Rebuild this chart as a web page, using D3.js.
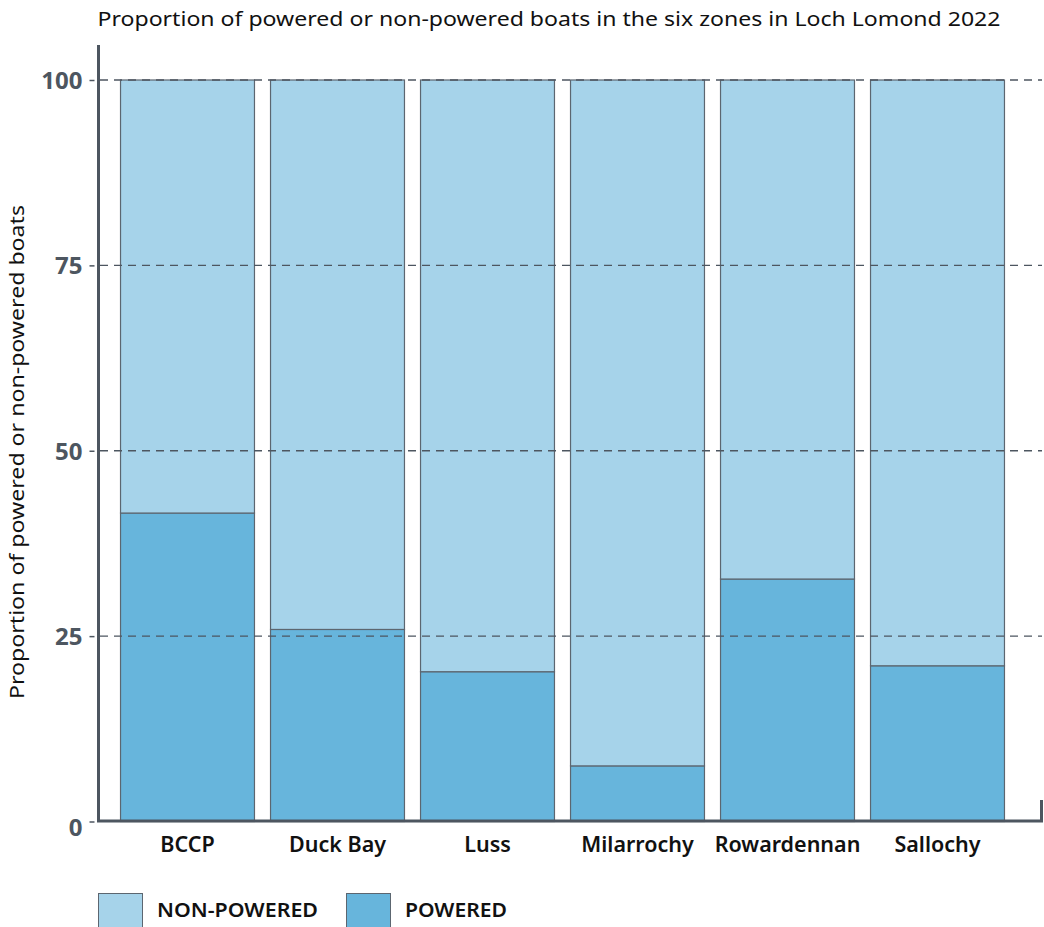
<!DOCTYPE html>
<html>
<head>
<meta charset="utf-8">
<script src="https://cdn.jsdelivr.net/npm/d3@7/dist/d3.min.js"></script>
<style>
  html, body { margin: 0; padding: 0; background: #fff; }
  svg { display: block; font-family: "Noto Sans", "Open Sans", sans-serif; }
</style>
</head>
<body>
<svg id="chart" width="1044" height="927"></svg>
<script>
// Zones surveyed on Loch Lomond, 2022
const zones = ["BCCP", "Duck Bay", "Luss", "Milarrochy", "Rowardennan", "Sallochy"];
// Share of powered boats per zone (%)
const powered = [41.6, 25.9, 20.2, 7.5, 32.7, 21.0];
// Share of non-powered boats per zone (%)
const nonPowered = [58.4, 74.1, 79.8, 92.5, 67.3, 79.0];
const yTicks = [0, 25, 50, 75, 100];
const seriesNames = ["NON-POWERED", "POWERED"];
const seriesColors = ["#a6d3ea", "#67b5dc"];

const svg = d3.select("#chart");
const axisColor = "#4d5660";
const barStroke = "#5c6670";

const x = d3.scaleBand()
  .domain(zones)
  .range([112.5, 1012.5])
  .paddingInner(0.107)
  .paddingOuter(0.0535);

const y = d3.scaleLinear().domain([0, 100]).range([821.5, 80]);

// Stretch a text element horizontally to a given width
function fitWidth(sel, w) {
  sel.attr("textLength", w).attr("lengthAdjust", "spacingAndGlyphs");
}

// Title
svg.append("text")
  .attr("x", 549).attr("y", 26)
  .attr("text-anchor", "middle")
  .attr("font-size", 20.5)
  .attr("fill", "#111")
  .text("Proportion of powered or non-powered boats in the six zones in Loch Lomond 2022")
  .call(fitWidth, 903);

// Y axis title
svg.append("text")
  .attr("transform", "translate(24,452) rotate(-90)")
  .attr("text-anchor", "middle")
  .attr("font-size", 20.5)
  .attr("fill", "#111")
  .text("Proportion of powered or non-powered boats")
  .call(fitWidth, 494);

// Stacked bars
const rows = zones.map((z, i) => ({ zone: z, powered: powered[i], nonPowered: nonPowered[i] }));
const stack = d3.stack().keys(["powered", "nonPowered"]);
const layers = stack(rows);
const layerColor = { powered: seriesColors[1], nonPowered: seriesColors[0] };

svg.append("g").selectAll("g")
  .data(layers)
  .join("g")
  .attr("fill", d => layerColor[d.key])
  .selectAll("rect")
  .data(d => d)
  .join("rect")
  .attr("x", d => x(d.data.zone))
  .attr("width", x.bandwidth())
  .attr("y", d => y(d[1]))
  .attr("height", d => y(d[0]) - y(d[1]))
  .attr("stroke", barStroke)
  .attr("stroke-width", 1.2);

// Dashed gridlines (drawn over the bars)
const grid = svg.append("g");
yTicks.filter(t => t > 0).forEach(t => {
  grid.append("line")
    .attr("x1", 100).attr("x2", 1042)
    .attr("y1", y(t)).attr("y2", y(t))
    .attr("stroke", "#4d5660")
    .attr("stroke-width", 1.3)
    .attr("stroke-dasharray", "8,6");
});

// Y axis
const yAxis = svg.append("g").attr("transform", "translate(98.5,0)")
  .call(d3.axisLeft(y).tickValues(yTicks).tickSize(6).tickPadding(10).tickSizeOuter(0));
yAxis.select(".domain").remove();
yAxis.selectAll(".tick line").attr("stroke", axisColor).attr("stroke-width", 1.5)
  .attr("x1", -4).attr("x2", -9);
yAxis.selectAll(".tick text")
  .attr("fill", axisColor)
  .attr("font-size", 24)
  .attr("font-weight", 700)
  .attr("x", -16)
  .attr("dy", "0.35em")
  .attr("font-family", "'Noto Sans', sans-serif");
yAxis.selectAll(".tick").filter(d => d === 0).select("text").attr("dy", "0.6em");

svg.append("line")
  .attr("x1", 98.5).attr("x2", 98.5)
  .attr("y1", 45).attr("y2", 822)
  .attr("stroke", axisColor).attr("stroke-width", 3);

// X axis
svg.append("path")
  .attr("d", "M98.5,800V821H1041.5V800")
  .attr("fill", "none")
  .attr("stroke", axisColor)
  .attr("stroke-width", 3);

const xAxis = svg.append("g").attr("transform", "translate(0,821)")
  .call(d3.axisBottom(x).tickSize(0).tickPadding(16));
xAxis.select(".domain").remove();
xAxis.selectAll(".tick text")
  .attr("fill", "#111")
  .attr("font-size", 21.5)
  .attr("font-weight", 600)
  .attr("dy", "0.71em")
  .attr("font-family", "'Noto Sans', sans-serif");

// Legend
const legend = svg.append("g");
const legendX = [98, 346];
const legendTextW = [161, 102];
seriesNames.forEach((name, i) => {
  const g = legend.append("g").attr("transform", `translate(${legendX[i]},893)`);
  g.append("rect")
    .attr("x", 0.5).attr("y", 0.5)
    .attr("width", 44).attr("height", 36)
    .attr("fill", seriesColors[i])
    .attr("stroke", barStroke).attr("stroke-width", 1);
  g.append("text")
    .attr("x", 59).attr("y", 17)
    .attr("dy", "0.35em")
    .attr("font-size", 19)
    .attr("font-weight", 600)
    .attr("fill", "#111")
    .text(name)
    .call(fitWidth, legendTextW[i]);
});
</script>
</body>
</html>
